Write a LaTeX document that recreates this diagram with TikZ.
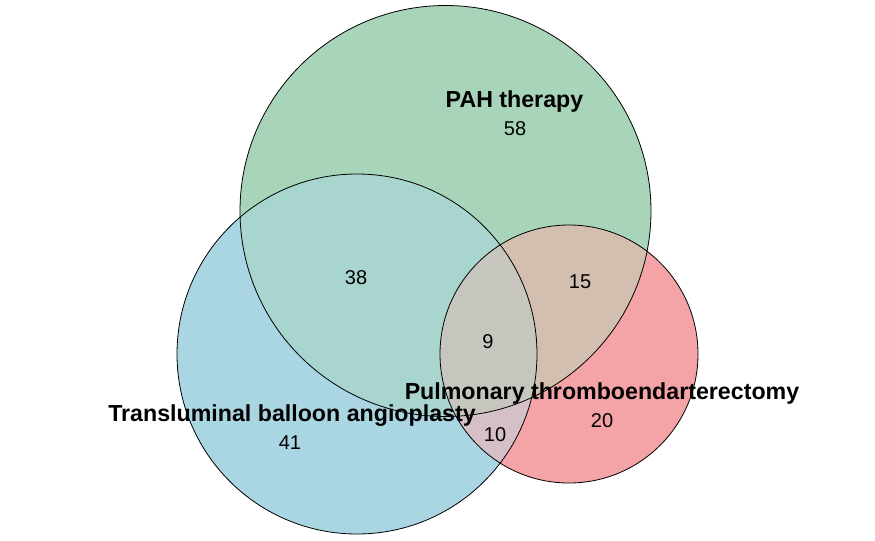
\documentclass[tikz,border=0pt]{standalone}
\usepackage{fontspec}
\setmainfont{Liberation Sans}

\definecolor{pahgreen}{RGB}{168,213,186}
\definecolor{tbablue}{RGB}{170,214,227}
\definecolor{ptered}{RGB}{244,163,167}
\definecolor{pahtba}{RGB}{169,213,207}
\definecolor{pahpte}{RGB}{211,191,176}
\definecolor{tbapte}{RGB}{213,191,200}
\definecolor{allthree}{RGB}{198,198,191}

\begin{document}
\begin{tikzpicture}[x=0.75pt,y=-0.75pt,
  setlabel/.style={anchor=base,font=\bfseries\fontsize{17.4}{20}\selectfont},
  count/.style={anchor=base,font=\fontsize{15}{18}\selectfont},
  outline/.style={black,line width=0.6pt}]

\useasboundingbox (0,0) rectangle (875,540);

% Circle centres
\coordinate (pah) at (445.5,211);
\coordinate (tba) at (357,354);
\coordinate (pte) at (569,354);

% Single sets
\fill[pahgreen] (pah) circle (205.5);
\fill[tbablue] (tba) circle (180);
\fill[ptered] (pte) circle (129);

% Overlaps
\begin{scope}
\clip (pah) circle (205.5);
\fill[pahtba] (tba) circle (180);
\fill[pahpte] (pte) circle (129);
\end{scope}
\begin{scope}
\clip (tba) circle (180);
\fill[tbapte] (pte) circle (129);
\clip (pte) circle (129);
\fill[allthree] (pah) circle (205.5);
\end{scope}

% Set names
\node[setlabel] (pahname) at (514.5,107) {PAH therapy};
\node[setlabel] (tbaname) at (292,421) {Transluminal balloon angioplasty};
\node[setlabel] (ptename) at (602,399) {Pulmonary thromboendarterectomy};

% Counts
\node[count] (n58) at (515,135) {58};
\node[count] (n38) at (356,284.5) {38};
\node[count] (n15) at (580,288) {15};
\node[count] (n9) at (488,348) {9};
\node[count] (n41) at (290,449) {41};
\node[count] (n10) at (495,441) {10};
\node[count] (n20) at (602,427) {20};

% Outlines
\draw[outline] (pah) circle (205.5);
\draw[outline] (tba) circle (180);
\draw[outline] (pte) circle (129);

\end{tikzpicture}
\end{document}
